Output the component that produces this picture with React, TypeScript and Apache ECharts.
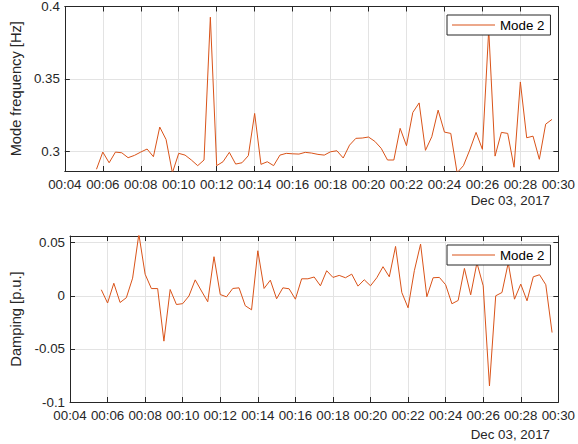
import React, { useEffect, useRef } from "react";
import * as echarts from "echarts";

// Sample times: first sample 00:05:40, one sample every 20 s
const startMinute = 5 + 40 / 60;
const stepMinutes = 20 / 60;

const xTickMin = 4;
const xTickMax = 30;
const xTickStep = 2;

const dateLabel = "Dec 03, 2017";
const seriesName = "Mode 2";

const frequency = [
  0.2874, 0.2993, 0.2919, 0.2993, 0.2988, 0.2954, 0.297, 0.2993, 0.3014, 0.2961,
  0.3166, 0.308, 0.285, 0.2984, 0.2972, 0.2938, 0.2899, 0.2938, 0.3926, 0.2899,
  0.2926, 0.2991, 0.291, 0.2919, 0.2968, 0.326, 0.2908, 0.2926, 0.2899, 0.2972,
  0.2984, 0.2981, 0.2979, 0.2991, 0.2986, 0.2977, 0.2972, 0.2995, 0.3002, 0.2952,
  0.3041, 0.3088, 0.309, 0.3097, 0.3067, 0.3019, 0.2938, 0.2938, 0.3157, 0.3037,
  0.3267, 0.3333, 0.3005, 0.3099, 0.3283, 0.3131, 0.3122, 0.285, 0.2899, 0.3007,
  0.3129, 0.3012, 0.384, 0.2965, 0.3129, 0.3122, 0.2888, 0.3478, 0.3092, 0.3103,
  0.2943, 0.3186, 0.3219,
];

const damping = [
  0.0057, -0.0068, 0.0118, -0.0063, -0.0018, 0.0166, 0.058, 0.0203, 0.0068, 0.0068,
  -0.0427, 0.0059, -0.0082, -0.0074, -0.0002, 0.015, 0.0045, -0.0056, 0.0368, 0.0012,
  -0.001, 0.0069, 0.0075, -0.0094, -0.0132, 0.0424, 0.0069, 0.0147, -0.0028, 0.0075,
  0.0066, -0.0032, 0.016, 0.016, 0.0177, 0.0094, 0.0236, 0.0173, 0.0192, 0.017,
  0.0204, 0.0091, 0.0151, 0.0094, 0.017, 0.0274, 0.0179, 0.0465, 0.0031, -0.0113,
  0.0236, 0.0487, -0.0009, 0.017, 0.0173, 0.0104, -0.0075, -0.0044, 0.0258, 0.0009,
  0.031, 0.0094, -0.0849, 0.0, 0.0031, 0.031, -0.0032, 0.011, -0.0047, 0.0179,
  0.0198, 0.0104, -0.0346,
];

const freqRange = [0.2862, 0.4];
const dampRange = [-0.1, 0.0563];
const yStepFreq = 0.05;
const yStepDamp = 0.05;

const LINE = "#D95319";
const AX = "#262626";
const GRIDC = "#e3e3e3";
const FONT = "Liberation Sans, Arial, Helvetica, sans-serif";
const FS = 13.33;
const FS_NAME = 14.67;

const pad2 = (n: number) => (n < 10 ? "0" + n : "" + n);
const fmtTime = (v: number) => "00:" + pad2(Math.round(v));
const fmtY = (step: number) => (v: number) => {
  const k = v / step;
  if (Math.abs(k - Math.round(k)) > 1e-6) return "";
  return String(parseFloat(v.toFixed(4)));
};

export default function App() {
  const ref = useRef<HTMLDivElement>(null);
  useEffect(() => {
    document.body.style.margin = "0";
    if (!ref.current) return;
    const chart = echarts.init(ref.current, undefined, { renderer: "svg" });
    const times = frequency.map((_, i) => startMinute + i * stepMinutes);
    const freqData = frequency.map((v, i) => [times[i], v]);
    const dampData = damping.map((v, i) => [times[i], v]);

    const grids = [
      { left: 59, top: 6, right: 16, height: 165 },
      { left: 59, top: 236, right: 16, height: 166 },
    ];

    const xBottom = (gi: number) => ({
      type: "value",
      gridIndex: gi,
      position: "bottom",
      min: xTickMin,
      max: xTickMax,
      interval: xTickStep,
      axisLine: { show: true, onZero: false, lineStyle: { color: AX, width: 1 } },
      axisTick: { show: true, inside: true, length: 5, lineStyle: { color: AX } },
      axisLabel: {
        show: true,
        margin: 7,
        formatter: fmtTime,
        color: AX,
        fontSize: FS,
        fontFamily: FONT,
      },
      splitLine: { show: true, lineStyle: { color: GRIDC, width: 1 } },
    });
    const xTop = (gi: number) => ({
      type: "value",
      gridIndex: gi,
      position: "top",
      min: xTickMin,
      max: xTickMax,
      interval: xTickStep,
      axisLine: { show: true, onZero: false, lineStyle: { color: AX, width: 1 } },
      axisTick: { show: true, inside: true, length: 5, lineStyle: { color: AX } },
      axisLabel: { show: false },
      splitLine: { show: false },
    });
    const yLeft = (gi: number, range: number[], step: number, name: string, gap: number) => ({
      type: "value",
      gridIndex: gi,
      position: "left",
      min: range[0],
      max: range[1],
      minInterval: step,
      maxInterval: step,
      name,
      nameLocation: "middle",
      nameGap: gap,
      nameRotate: 90,
      nameTextStyle: { color: AX, fontSize: FS_NAME, fontFamily: FONT },
      axisLine: { show: true, onZero: false, lineStyle: { color: AX, width: 1 } },
      axisTick: { show: true, inside: true, length: 5, lineStyle: { color: AX } },
      axisLabel: {
        show: true,
        margin: 5,
        formatter: fmtY(step),
        color: AX,
        fontSize: FS,
        fontFamily: FONT,
      },
      splitLine: { show: true, lineStyle: { color: GRIDC, width: 1 } },
    });
    const yRight = (gi: number, range: number[], step: number) => ({
      type: "value",
      gridIndex: gi,
      position: "right",
      min: range[0],
      max: range[1],
      minInterval: step,
      maxInterval: step,
      axisLine: { show: true, onZero: false, lineStyle: { color: AX, width: 1 } },
      axisTick: { show: true, inside: true, length: 5, lineStyle: { color: AX } },
      axisLabel: { show: false },
      splitLine: { show: false },
    });

    const legendBase = {
      left: 447,
      orient: "horizontal",
      padding: [2, 6, 2, 5],
      itemWidth: 43,
      itemHeight: 1,
      icon: "rect",
      borderColor: AX,
      borderWidth: 1,
      borderRadius: 0,
      backgroundColor: "#ffffff",
      textStyle: { color: "#000", fontSize: FS, fontFamily: FONT, lineHeight: 16 },
      data: [seriesName],
      selectedMode: false,
    };

    chart.setOption({
      animation: false,
      backgroundColor: "#ffffff",
      grid: grids,
      xAxis: [xBottom(0), xTop(0), xBottom(1), xTop(1)],
      yAxis: [
        yLeft(0, freqRange, yStepFreq, "Mode frequency [Hz]", 37),
        yRight(0, freqRange, yStepFreq),
        yLeft(1, dampRange, yStepDamp, "Damping [p.u.]", 47),
        yRight(1, dampRange, yStepDamp),
      ],
      legend: [
        { ...legendBase, top: 15 },
        { ...legendBase, top: 245 },
      ],
      series: [
        {
          type: "line",
          name: seriesName,
          xAxisIndex: 0,
          yAxisIndex: 0,
          data: freqData,
          symbol: "none",
          clip: true,
          lineStyle: { color: LINE, width: 1 },
          itemStyle: { color: LINE },
        },
        {
          type: "line",
          name: seriesName,
          xAxisIndex: 2,
          yAxisIndex: 2,
          data: dampData,
          symbol: "none",
          clip: true,
          lineStyle: { color: LINE, width: 1 },
          itemStyle: { color: LINE },
        },
      ],
      graphic: [
        {
          type: "text",
          x: 550,
          y: 200,
          style: {
            text: dateLabel,
            align: "right",
            verticalAlign: "middle",
            fill: AX,
            fontSize: FS,
            fontFamily: FONT,
          },
        },
        {
          type: "text",
          x: 550,
          y: 434,
          style: {
            text: dateLabel,
            align: "right",
            verticalAlign: "middle",
            fill: AX,
            fontSize: FS,
            fontFamily: FONT,
          },
        },
      ],
    });
    return () => chart.dispose();
  }, []);
  return <div ref={ref} style={{ width: 578, height: 444 }} />;
}
